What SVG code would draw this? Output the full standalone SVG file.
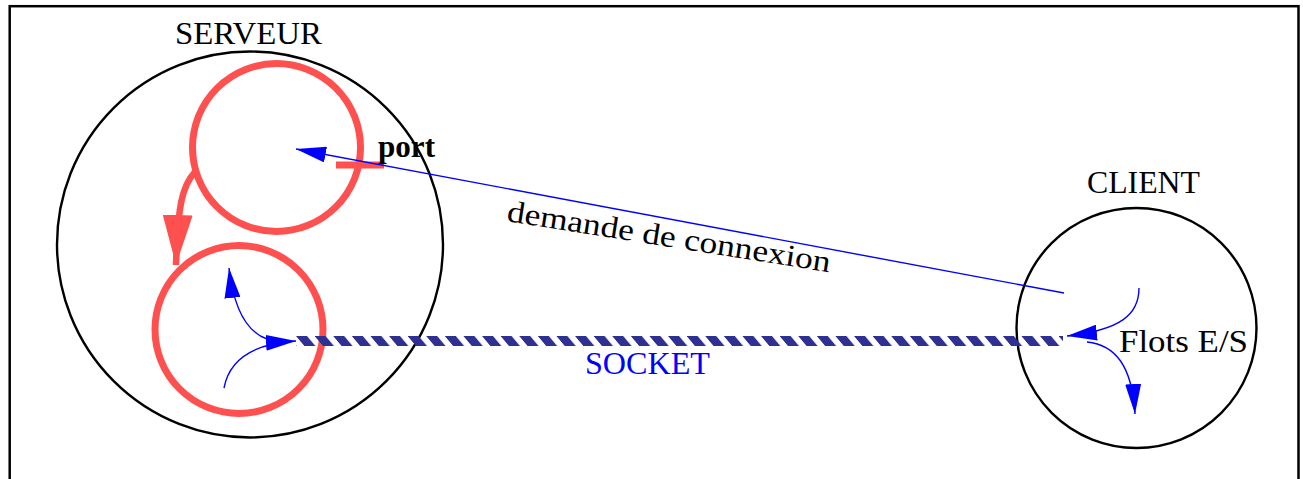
<svg xmlns="http://www.w3.org/2000/svg" width="1303" height="479" viewBox="0 0 1303 479">
  <style>
    .lbl { font-family: "Liberation Serif", "DejaVu Serif", serif; font-size: 30.5px; fill: #000; }
    .blue { fill: #0000ff; }
    .ring { fill: none; stroke: #000; stroke-width: 2.4; }
    .red { fill: none; stroke: #ff5050; stroke-width: 7; }
    .flow { fill: none; stroke: #0000ff; stroke-width: 1.4; }
  </style>
  <defs>
    <marker id="ab" markerUnits="userSpaceOnUse" viewBox="0 0 30 16" markerWidth="30" markerHeight="16" refX="30" refY="8" orient="auto">
      <path d="M0,0 L30,8 L0,16 Z" fill="#0000ff"/>
    </marker>
    <marker id="ar" markerUnits="userSpaceOnUse" viewBox="0 0 50 30" markerWidth="50" markerHeight="30" refX="50" refY="15" orient="auto">
      <path d="M0,0 L50,15 L0,30 Z" fill="#ff5050"/>
    </marker>
    <pattern id="hatch" patternUnits="userSpaceOnUse" width="18.6" height="10" patternTransform="translate(296,336) skewX(40)">
      <rect width="11" height="10" fill="#2e3192"/>
    </pattern>
  </defs>
  <rect width="1303" height="479" fill="#fff"/>
  <g id="frame">
    <rect x="9.7" y="6.2" width="1288.8" height="520" fill="none" stroke="#000" stroke-width="2.5"/>
  </g>
  <g id="serveur">
    <circle class="ring" cx="250" cy="244.5" r="193"/>
    <text class="lbl" x="175" y="44" textLength="147" lengthAdjust="spacingAndGlyphs">SERVEUR</text>
  </g>
  <g id="ecoute">
    <circle class="red" cx="276.5" cy="147.5" r="84"/>
    <rect x="336" y="161.5" width="48" height="7" fill="#ff5050"/>
    <text class="lbl" x="378" y="157" font-weight="bold" textLength="57" lengthAdjust="spacingAndGlyphs">port</text>
  </g>
  <g id="service">
    <circle class="red" cx="239" cy="329.5" r="84"/>
  </g>
  <g id="client">
    <circle class="ring" cx="1136.5" cy="328" r="120"/>
    <text class="lbl" x="1087" y="193" textLength="113" lengthAdjust="spacingAndGlyphs">CLIENT</text>
    <text class="lbl" x="1119" y="352" textLength="129" lengthAdjust="spacingAndGlyphs">Flots E/S</text>
  </g>
  <g id="connectors">
    <path d="M195,172 C182,186 178,205 176,265" fill="none" stroke="#ff5050" stroke-width="6.5" marker-end="url(#ar)"/>
    <line class="flow" x1="1064" y1="293" x2="296" y2="149" marker-end="url(#ab)"/>
    <text class="lbl" transform="translate(506,221) rotate(9)" x="0" y="0" textLength="327" lengthAdjust="spacingAndGlyphs">demande de connexion</text>
    <rect x="296" y="336" width="767" height="10" fill="url(#hatch)"/>
    <text class="lbl blue" x="585" y="374" textLength="125" lengthAdjust="spacingAndGlyphs">SOCKET</text>
    <path class="flow" d="M224,388 Q232,345 296,341" marker-end="url(#ab)"/>
    <path class="flow" d="M267,339 Q236,328 229,268" marker-end="url(#ab)"/>
    <path class="flow" d="M1139,288 C1139,315 1120,330 1067,336" marker-end="url(#ab)"/>
    <path class="flow" d="M1087,342 C1115,345 1132,365 1135,414" marker-end="url(#ab)"/>
  </g>
</svg>
